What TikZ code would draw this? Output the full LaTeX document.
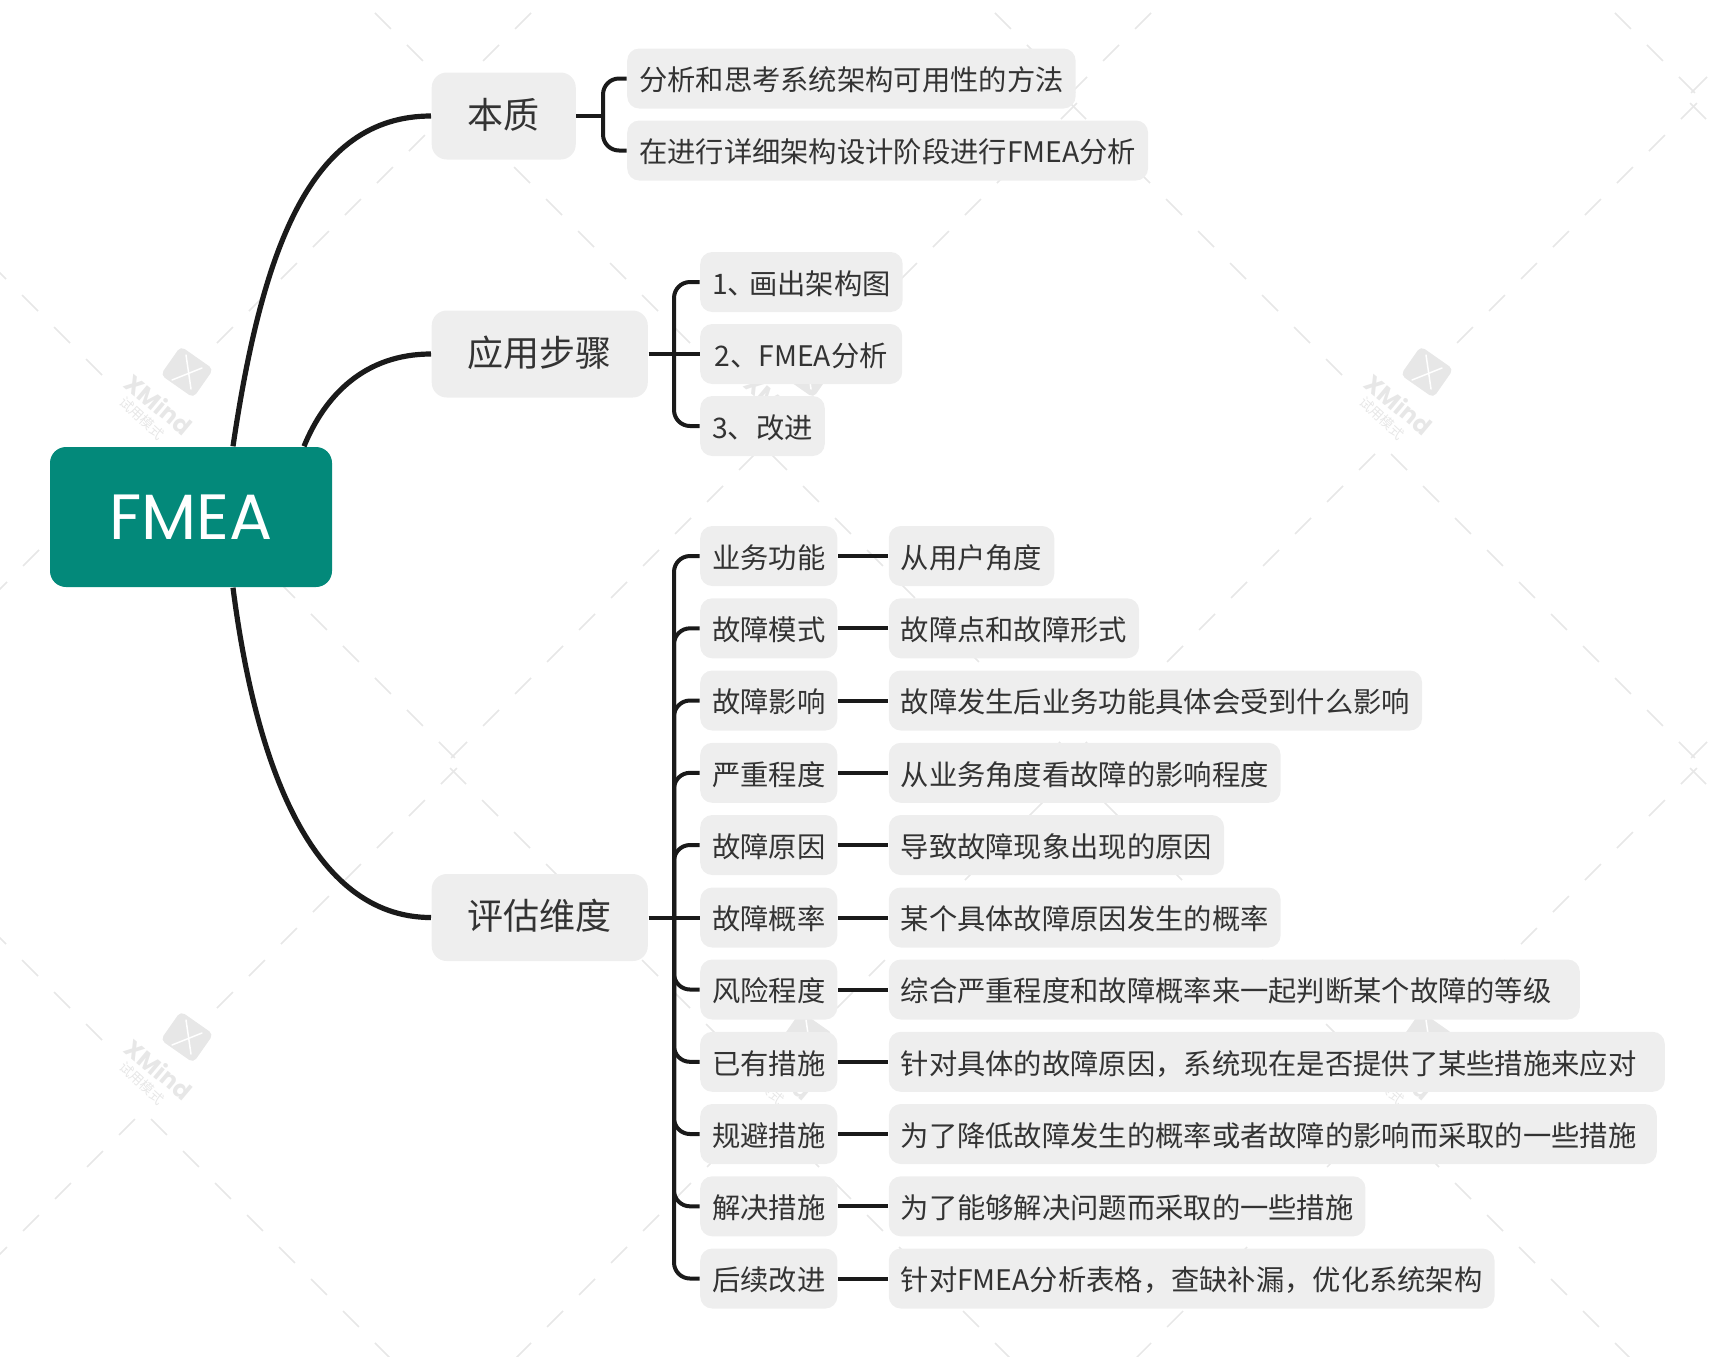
\documentclass[tikz,border=0pt]{standalone}
\usepackage{fontspec}
\setmainfont{Noto Sans CJK SC}
\newfontfamily\rootfont{Poppins}
\usetikzlibrary{positioning, calc}
\definecolor{CRoot}{HTML}{03897A}
\definecolor{CBox}{HTML}{EEEEEE}
\definecolor{CLine}{HTML}{1A1A1A}
\definecolor{CText}{HTML}{333333}
\definecolor{CMark}{HTML}{E7E7E7}
\tikzset{
    rootbox/.style={fill=CRoot, text=white, rounded corners=0.16cm, minimum width=2.82cm, minimum height=1.40cm, font=\rootfont\fontsize{18.2}{20}\selectfont},
    topicbox/.style={fill=CBox, text=CText, rounded corners=0.15cm, anchor=west, minimum height=0.87cm, inner xsep=0.36cm, inner ysep=0pt, text height=0.85em, text depth=0.15em, font=\fontsize{10.25}{12}\selectfont},
    leafbox/.style={fill=CBox, text=CText, rounded corners=0.12cm, anchor=west, minimum height=0.60cm, inner xsep=0.12cm, inner ysep=0pt, text height=0.85em, text depth=0.15em, font=\fontsize{8.05}{10}\selectfont},
    widebox/.style={leafbox, text width=#1, align=left},
    trunk/.style={draw=CLine, line width=0.052cm},
    twig/.style={draw=CLine, line width=0.04cm},
    elbow/.style={twig, rounded corners=0.16cm},
    markdash/.style={draw=CMark, line width=0.015cm, dash pattern=on 0.226cm off 0.2265cm},
}

\begin{document}
\begin{tikzpicture}
    \useasboundingbox (0,0) rectangle (17.10,-13.56);

    % --- WATERMARK ---
    \begin{scope}
        \clip (0,0) rectangle (17.10,-13.56);
        \foreach \wx in {-4.33, 1.87, 8.07, 14.27, 20.47} {
            \foreach \wy in {2.93, -3.72, -10.37, -17.02} {
                \begin{scope}[shift={(\wx,\wy)}]
                    \draw[markdash] (0.30,0.29) -- (2.70,2.69);
                    \draw[markdash] (-0.85,-0.03) -- (-3.57,2.69);
                    \draw[markdash] (-0.36,-0.82) -- (2.68,-3.86);
                    \draw[markdash] (-0.52,-0.82) -- (-3.56,-3.86);
                \end{scope}
            }
        }
    \end{scope}
    \foreach \wx in {1.87, 8.07, 14.27} {
        \foreach \wy in {-3.72, -10.37} {
            \begin{scope}[shift={(\wx,\wy)}]
                \fill[CMark, rotate=-35, rounded corners=0.05cm] (-0.20,-0.175) rectangle (0.20,0.175);
                \draw[white, line width=0.015cm, line cap=round] (-0.01,0.17) -- (0.04,-0.17);
                \draw[white, line width=0.015cm, line cap=round] (-0.15,-0.08) -- (0.15,0.04);
                \node[text=CMark, rotate=-40, inner sep=0pt, font=\rootfont\bfseries\fontsize{6.8}{8}\selectfont] (markname) at (-0.28,-0.32) {XMind};
                \node[text=CMark, rotate=-43, inner sep=0pt, font=\fontsize{3.9}{5}\selectfont] (marktrial) at (-0.45,-0.46) {试用模式};
            \end{scope}
        }
    }

    % --- ROOT AND MAIN TOPICS ---
    \node[rootbox] (root) at (1.91,-5.17) {FMEA};
    \node[topicbox] (core) at (4.31,-1.16) {本质};
    \node[topicbox] (steps) at (4.31,-3.54) {应用步骤};
    \node[topicbox] (dims) at (4.31,-9.175) {评估维度};

    \coordinate (rootA) at ([xshift=0.42cm]root.north);
    \coordinate (rootB) at ([xshift=1.13cm]root.north);
    \coordinate (rootC) at ([xshift=0.42cm]root.south);

    \draw[trunk] (rootA) .. controls (2.62,-2.50) and (3.10,-1.16) .. (core.west);
    \draw[trunk] (rootB) .. controls (3.25,-3.95) and (3.65,-3.54) .. (steps.west);
    \draw[trunk] (rootC) .. controls (2.55,-7.60) and (3.10,-9.175) .. (dims.west);

    % --- CORE ---
    \node[leafbox] (coreA) at (6.265,-0.785) {分析和思考系统架构可用性的方法};
    \node[leafbox] (coreB) at (6.265,-1.505) {在进行详细架构设计阶段进行FMEA分析};
    \coordinate (coreBus) at (6.03,-1.16);
    \draw[twig] (core.east) -- (coreBus);
    \draw[elbow] (coreBus) |- (coreA.west);
    \draw[elbow] (coreBus) |- (coreB.west);

    % --- STEPS ---
    \node[leafbox, minimum width=2.02cm] (stepA) at (6.995,-2.82) {1、\hspace{-0.07cm}画出架构图};
    \node[leafbox, minimum width=2.02cm] (stepB) at (6.995,-3.54) {2、FMEA分析};
    \node[leafbox] (stepC) at (6.995,-4.26) {3、改进};
    \coordinate (stepBus) at (6.74,-3.54);
    \draw[twig] (steps.east) -- (stepB.west);
    \draw[elbow] (stepBus) |- (stepA.west);
    \draw[elbow] (stepBus) |- (stepC.west);

    % --- DIMENSIONS ---
    \node[leafbox] (rowA) at (6.995,-5.56) {业务功能};
    \node[leafbox] (rowB) at (6.995,-6.283) {故障模式};
    \node[leafbox] (rowC) at (6.995,-7.005) {故障影响};
    \node[leafbox] (rowD) at (6.995,-7.728) {严重程度};
    \node[leafbox] (rowE) at (6.995,-8.45) {故障原因};
    \node[leafbox] (rowF) at (6.995,-9.175) {故障概率};
    \node[leafbox] (rowG) at (6.995,-9.895) {风险程度};
    \node[leafbox] (rowH) at (6.995,-10.618) {已有措施};
    \node[leafbox] (rowI) at (6.995,-11.34) {规避措施};
    \node[leafbox] (rowJ) at (6.995,-12.063) {解决措施};
    \node[leafbox] (rowK) at (6.995,-12.785) {后续改进};

    \node[leafbox, right=0.50cm of rowA] (infoA) {从用户角度};
    \node[leafbox, right=0.50cm of rowB] (infoB) {故障点和故障形式};
    \node[leafbox, right=0.50cm of rowC] (infoC) {故障发生后业务功能具体会受到什么影响};
    \node[leafbox, right=0.50cm of rowD] (infoD) {从业务角度看故障的影响程度};
    \node[leafbox, right=0.50cm of rowE] (infoE) {导致故障现象出现的原因};
    \node[leafbox, right=0.50cm of rowF] (infoF) {某个具体故障原因发生的概率};
    \node[widebox=6.67cm, right=0.50cm of rowG] (infoG) {综合严重程度和故障概率来一起判断某个故障的等级};
    \node[widebox=7.52cm, right=0.50cm of rowH] (infoH) {针对具体的故障原因，系统现在是否提供了某些措施来应对};
    \node[widebox=7.44cm, right=0.50cm of rowI] (infoI) {为了降低故障发生的概率或者故障的影响而采取的一些措施};
    \node[leafbox, right=0.50cm of rowJ] (infoJ) {为了能够解决问题而采取的一些措施};
    \node[leafbox, right=0.50cm of rowK] (infoK) {针对FMEA分析表格，查缺补漏，优化系统架构};

    \coordinate (dimBus) at (6.74,-9.175);
    \draw[twig] (dims.east) -- (rowF.west);
    \draw[elbow] (dimBus) |- (rowA.west);
    \draw[elbow] (dimBus) |- (rowB.west);
    \draw[elbow] (dimBus) |- (rowC.west);
    \draw[elbow] (dimBus) |- (rowD.west);
    \draw[elbow] (dimBus) |- (rowE.west);
    \draw[elbow] (dimBus) |- (rowG.west);
    \draw[elbow] (dimBus) |- (rowH.west);
    \draw[elbow] (dimBus) |- (rowI.west);
    \draw[elbow] (dimBus) |- (rowJ.west);
    \draw[elbow] (dimBus) |- (rowK.west);

    \draw[twig] (rowA) -- (infoA);
    \draw[twig] (rowB) -- (infoB);
    \draw[twig] (rowC) -- (infoC);
    \draw[twig] (rowD) -- (infoD);
    \draw[twig] (rowE) -- (infoE);
    \draw[twig] (rowF) -- (infoF);
    \draw[twig] (rowG) -- (infoG);
    \draw[twig] (rowH) -- (infoH);
    \draw[twig] (rowI) -- (infoI);
    \draw[twig] (rowJ) -- (infoJ);
    \draw[twig] (rowK) -- (infoK);
\end{tikzpicture}
\end{document}
